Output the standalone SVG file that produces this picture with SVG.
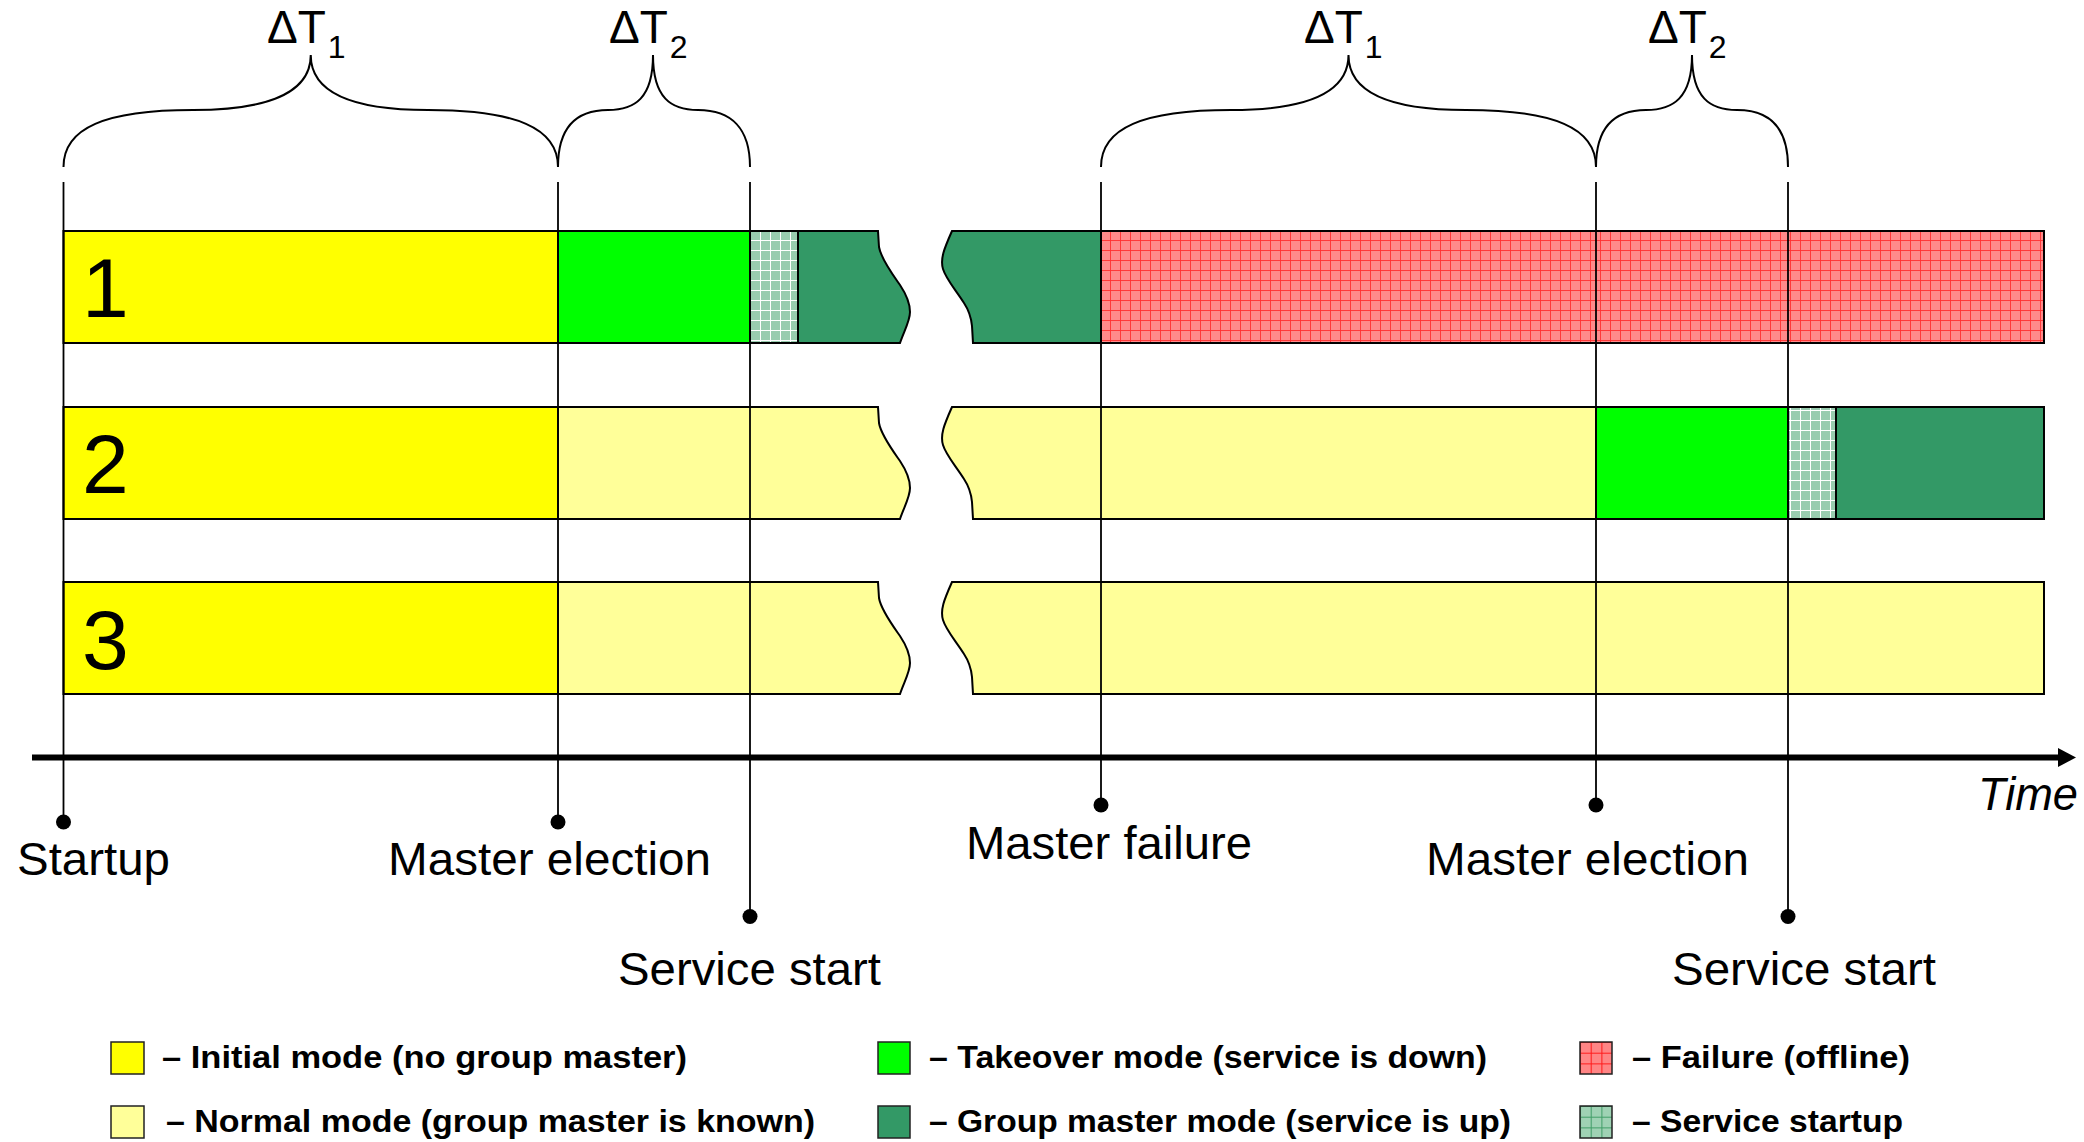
<svg xmlns="http://www.w3.org/2000/svg" width="2084" height="1142" viewBox="0 0 2084 1142">
  <style>
    .lbl { font-family: "Liberation Sans", Arial, sans-serif; font-size: 46px; fill: #000; }
    .num { font-family: "Liberation Sans", Arial, sans-serif; font-size: 84px; fill: #000; }
    .leg { font-family: "Liberation Sans", Arial, sans-serif; font-size: 32px; font-weight: bold; fill: #000; }
    .bar { stroke: #000; stroke-width: 2; stroke-linejoin: miter; }
    .brace { fill: none; stroke: #000; stroke-width: 2; }
    .vline { stroke: #000; stroke-width: 1.8; }
    .sw { stroke: #222; stroke-width: 1.5; }
    .yel { fill: #ffff00; }
    .lyel { fill: #ffff99; }
    .grn { fill: #00ff00; }
    .dgrn { fill: #339966; }
  </style>
  <defs>
    <pattern id="redGrid" patternUnits="userSpaceOnUse" width="10" height="10">
      <rect width="10" height="10" fill="#ff8a8a"/>
      <path d="M0,0.5 H10 M0.5,0 V10" stroke="#ff3030" stroke-width="0.9"/>
    </pattern>
    <pattern id="startGrid" patternUnits="userSpaceOnUse" width="10" height="10">
      <rect width="10" height="10" fill="#99ccaf"/>
      <path d="M0,0.5 H10 M0.5,0 V10" stroke="#ffffff" stroke-width="1"/>
    </pattern>
    <pattern id="redGridL" patternUnits="userSpaceOnUse" x="1580" y="1042" width="10.7" height="10.7">
      <rect width="10.7" height="10.7" fill="#ff8585"/>
      <path d="M0,0.5 H10.7 M0.5,0 V10.7" stroke="#ff1a1a" stroke-width="1"/>
    </pattern>
    <pattern id="startGridL" patternUnits="userSpaceOnUse" x="1580" y="1106" width="10.7" height="10.7">
      <rect width="10.7" height="10.7" fill="#9fd2b4"/>
      <path d="M0,0.5 H10.7 M0.5,0 V10.7" stroke="#3f9d66" stroke-width="1"/>
    </pattern>
  </defs>
  <rect width="2084" height="1142" fill="#ffffff"/>

  <!-- Braces -->
  <g id="braces">
    <g id="brace-dt1-a">
      <path class="brace" d="M63.5,167 C63.5,128 105,110 193,110 C255,110 310.75,98 310.75,55 C310.75,98 366,110 428,110 C516,110 558,128 558,167"/>
      <text class="lbl" x="267" y="43">ΔT<tspan dx="2" dy="15" font-size="32">1</tspan></text>
    </g>
    <g id="brace-dt2-a">
      <path class="brace" d="M558,167 C558,128 575,110 608,110 C635,110 653,98 653,55 C653,98 671,110 698,110 C731,110 750,128 750,167"/>
      <text class="lbl" x="609" y="43">ΔT<tspan dx="2" dy="15" font-size="32">2</tspan></text>
    </g>
    <g id="brace-dt1-b">
      <path class="brace" d="M1101,167 C1101,128 1143,110 1231,110 C1293,110 1348.5,98 1348.5,55 C1348.5,98 1404,110 1466,110 C1554,110 1596,128 1596,167"/>
      <text class="lbl" x="1304" y="43">ΔT<tspan dx="2" dy="15" font-size="32">1</tspan></text>
    </g>
    <g id="brace-dt2-b">
      <path class="brace" d="M1596,167 C1596,128 1613,110 1646,110 C1673,110 1692,98 1692,55 C1692,98 1710,110 1737,110 C1770,110 1788,128 1788,167"/>
      <text class="lbl" x="1648" y="43">ΔT<tspan dx="2" dy="15" font-size="32">2</tspan></text>
    </g>
  </g>

  <!-- Row 1 -->
  <g id="row1">
    <rect class="bar yel" x="63.5" y="231" width="494.5" height="112"/>
    <rect class="bar grn" x="558" y="231" width="192" height="112"/>
    <rect class="bar" fill="url(#startGrid)" x="750" y="231" width="48" height="112"/>
    <path class="bar dgrn" d="M798,231 L878,231 L879,247 C881,259 893,275 900,285 C906,294 910,303 910,312 C910,321 904,331 900,343 L798,343 Z"/>
    <path class="bar dgrn" d="M952,231 L1101,231 L1101,343 L973,343 L972,326 C971,316 968,309 964,303 C955,289 946,279 943,269 C940,259 944,249 952,231 Z"/>
    <rect class="bar" fill="url(#redGrid)" x="1101" y="231" width="943" height="112"/>
    <text class="num" x="82" y="317">1</text>
  </g>

  <!-- Row 2 -->
  <g id="row2">
    <rect class="bar yel" x="63.5" y="407" width="494.5" height="112"/>
    <path class="bar lyel" d="M558,407 L878,407 L879,423 C881,435 893,451 900,461 C906,470 910,479 910,488 C910,497 904,507 900,519 L558,519 Z"/>
    <path class="bar lyel" d="M952,407 L1596,407 L1596,519 L973,519 L972,502 C971,492 968,485 964,479 C955,465 946,455 943,445 C940,435 944,425 952,407 Z"/>
    <rect class="bar grn" x="1596" y="407" width="192" height="112"/>
    <rect class="bar" fill="url(#startGrid)" x="1788" y="407" width="48" height="112"/>
    <rect class="bar dgrn" x="1836" y="407" width="208" height="112"/>
    <text class="num" x="82" y="493">2</text>
  </g>

  <!-- Row 3 -->
  <g id="row3">
    <rect class="bar yel" x="63.5" y="582" width="494.5" height="112"/>
    <path class="bar lyel" d="M558,582 L878,582 L879,598 C881,610 893,626 900,636 C906,645 910,654 910,663 C910,672 904,682 900,694 L558,694 Z"/>
    <path class="bar lyel" d="M952,582 L2044,582 L2044,694 L973,694 L972,677 C971,667 968,660 964,654 C955,640 946,630 943,620 C940,610 944,600 952,582 Z"/>
    <text class="num" x="82" y="669">3</text>
  </g>

  <!-- Time axis and event markers -->
  <g id="connectors">
    <line x1="32" y1="757.5" x2="2060" y2="757.5" stroke="#000" stroke-width="6"/>
    <polygon points="2058,748 2076,757.5 2058,767" fill="#000"/>
    <line class="vline" x1="63.5" y1="182" x2="63.5" y2="822"/>
    <line class="vline" x1="558" y1="182" x2="558" y2="822"/>
    <line class="vline" x1="750" y1="182" x2="750" y2="916.5"/>
    <line class="vline" x1="1101" y1="182" x2="1101" y2="805"/>
    <line class="vline" x1="1596" y1="182" x2="1596" y2="805"/>
    <line class="vline" x1="1788" y1="182" x2="1788" y2="916.5"/>
    <circle cx="63.5" cy="822" r="7.5"/>
    <circle cx="558" cy="822" r="7.5"/>
    <circle cx="750" cy="916.5" r="7.5"/>
    <circle cx="1101" cy="805" r="7.5"/>
    <circle cx="1596" cy="805" r="7.5"/>
    <circle cx="1788" cy="916.5" r="7.5"/>
  </g>

  <!-- Event labels -->
  <g id="labels">
    <text class="lbl" x="17" y="875" textLength="153" lengthAdjust="spacingAndGlyphs">Startup</text>
    <text class="lbl" x="388" y="875" textLength="323" lengthAdjust="spacingAndGlyphs">Master election</text>
    <text class="lbl" x="618" y="985" textLength="263" lengthAdjust="spacingAndGlyphs">Service start</text>
    <text class="lbl" x="966" y="859" textLength="286" lengthAdjust="spacingAndGlyphs">Master failure</text>
    <text class="lbl" x="1426" y="875" textLength="323" lengthAdjust="spacingAndGlyphs">Master election</text>
    <text class="lbl" x="1672" y="985" textLength="264" lengthAdjust="spacingAndGlyphs">Service start</text>
    <text class="lbl" x="1978" y="810" font-style="italic" textLength="100" lengthAdjust="spacingAndGlyphs">Time</text>
  </g>

  <!-- Legend -->
  <g id="legend">
    <g id="leg-initial">
      <rect class="sw yel" x="111" y="1042" width="33" height="32"/>
      <text class="leg" x="162" y="1068" textLength="525" lengthAdjust="spacingAndGlyphs">– Initial mode (no group master)</text>
    </g>
    <g id="leg-normal">
      <rect class="sw lyel" x="111" y="1106" width="33" height="32"/>
      <text class="leg" x="166" y="1132" textLength="649" lengthAdjust="spacingAndGlyphs">– Normal mode (group master is known)</text>
    </g>
    <g id="leg-takeover">
      <rect class="sw grn" x="878" y="1042" width="32" height="32"/>
      <text class="leg" x="929" y="1068" textLength="558" lengthAdjust="spacingAndGlyphs">– Takeover mode (service is down)</text>
    </g>
    <g id="leg-master">
      <rect class="sw dgrn" x="878" y="1106" width="32" height="32"/>
      <text class="leg" x="929" y="1132" textLength="582" lengthAdjust="spacingAndGlyphs">– Group master mode (service is up)</text>
    </g>
    <g id="leg-failure">
      <rect class="sw" fill="url(#redGridL)" x="1580" y="1042" width="32" height="32"/>
      <text class="leg" x="1632" y="1068" textLength="278" lengthAdjust="spacingAndGlyphs">– Failure (offline)</text>
    </g>
    <g id="leg-startup">
      <rect class="sw" fill="url(#startGridL)" x="1580" y="1106" width="32" height="32"/>
      <text class="leg" x="1632" y="1132" textLength="271" lengthAdjust="spacingAndGlyphs">– Service startup</text>
    </g>
  </g>
</svg>
